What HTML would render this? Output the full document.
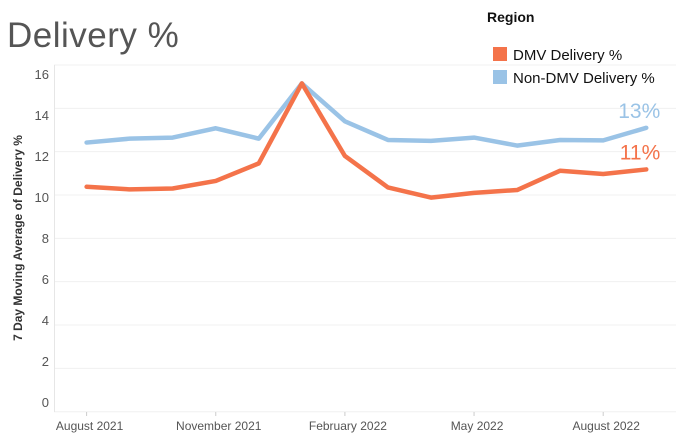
<!DOCTYPE html>
<html><head><meta charset="utf-8"><style>
body{margin:0;background:#fff;width:676px;height:441px;overflow:hidden;font-family:"Liberation Sans",sans-serif}
svg{display:block}
</style></head><body>
<svg id="c" width="676" height="441">
<text x="7" y="47" font-size="35" fill="#555" font-weight="300" style="letter-spacing:0.5px">Delivery %</text>
<text x="487" y="22" font-size="14" font-weight="bold" fill="#111">Region</text>
<g><rect x="493" y="47" width="14" height="14" fill="#f4734a"/><text x="513" y="60" font-size="15" fill="#111">DMV Delivery %</text></g>
<g><rect x="493" y="70" width="14" height="14" fill="#9ac3e6"/><text x="513" y="83" font-size="15" fill="#111">Non-DMV Delivery %</text></g>
<text transform="translate(22,238) rotate(-90)" text-anchor="middle" font-size="12" font-weight="bold" fill="#333">7 Day Moving Average of Delivery %</text>
<g id="grid"></g><g id="axes"></g><g id="lines"></g>
</svg>
<script>
const months=["Aug 2021","Sep 2021","Oct 2021","Nov 2021","Dec 2021","Jan 2022","Feb 2022","Mar 2022","Apr 2022","May 2022","Jun 2022","Jul 2022","Aug 2022","Sep 2022"];
const dmvValues=[10.38,10.26,10.3,10.65,11.46,15.15,11.8,10.35,9.88,10.1,10.23,11.12,10.97,11.18];
const nonDmvValues=[12.42,12.6,12.65,13.08,12.6,15.15,13.4,12.54,12.5,12.65,12.28,12.54,12.52,13.1];
const yTicks=[0,2,4,6,8,10,12,14,16];
const xTickLabels=[[0,"August 2021"],[3,"November 2021"],[6,"February 2022"],[9,"May 2022"],[12,"August 2022"]];
const NS="http://www.w3.org/2000/svg";
const x=i=>86.6+43.05*i;
const y=v=>411.7-21.67*v;
const yLab=v=>407-20.5*v;
function mk(tag,attrs,parent){const e=document.createElementNS(NS,tag);for(const k in attrs)e.setAttribute(k,attrs[k]);parent.appendChild(e);return e;}
const grid=document.getElementById('grid'),axes=document.getElementById('axes'),lines=document.getElementById('lines');
yTicks.forEach(t=>{
  const l=mk('line',{x1:54,x2:676,y1:y(t),y2:y(t),stroke:'#f0f0f0','stroke-width':1},grid);
  
  
  const tx=mk('text',{x:49,y:yLab(t),'text-anchor':'end','font-size':13,fill:'#555'},axes);
  tx.textContent=t;
  
  
});
mk('line',{x1:54.5,x2:54.5,y1:65,y2:412,stroke:'#e6e6e6'},axes);
xTickLabels.forEach(([i,lab])=>{
  mk('line',{x1:x(i),x2:x(i),y1:412,y2:416,stroke:'#ccc'},axes);
  const tx=mk('text',{x:x(i)+3,y:430,'text-anchor':'middle','font-size':12,fill:'#555'},axes);
  tx.textContent=lab;
  
  
});
function line(vals,color,name){
  const p=mk('polyline',{points:vals.map((v,i)=>x(i)+','+y(v)).join(' '),fill:'none',stroke:color,'stroke-width':4.5,'stroke-linejoin':'round','stroke-linecap':'round'},lines);
  
  
}
line(nonDmvValues,'#9ac3e6','non-dmv-line');
line(dmvValues,'#f4734a','dmv-line');
const n=months.length-1;
const l1=mk('text',{x:x(n)+14,y:y(nonDmvValues[n])-10,'text-anchor':'end','font-size':21,fill:'#9ac3e6'},lines);
l1.textContent=Math.round(nonDmvValues[n])+'%';


const l2=mk('text',{x:x(n)+14,y:y(dmvValues[n])-10,'text-anchor':'end','font-size':21,fill:'#f4734a'},lines);
l2.textContent=Math.round(dmvValues[n])+'%';


</script>
</body></html>
